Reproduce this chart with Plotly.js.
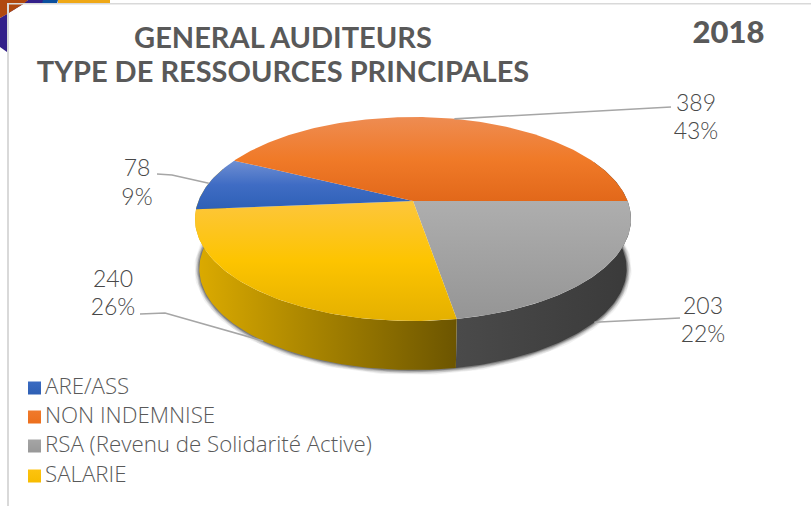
<!DOCTYPE html>
<html><head><meta charset="utf-8">
<script src="https://cdn.plot.ly/plotly-3.0.1.min.js"></script>
<style>html,body{margin:0;padding:0;background:#fff}#c{width:811px;height:506px}</style>
</head><body><div id="c"></div>
<script>
// Data
const categories = ['ARE/ASS','NON INDEMNISE','RSA (Revenu de Solidarité Active)','SALARIE'];
const values = [78, 389, 203, 240];
const titleLines = ['GENERAL AUDITEURS','TYPE DE RESSOURCES PRINCIPALES'];
const yearLabel = '2018';

// Style per category
const topStops = [
  [[0,'#6f8fd2'],[0.5,'#3f6cc4'],[1,'#2e60b6']],
  [[0,'#ee8c52'],[0.5,'#f07a28'],[1,'#e2681a']],
  [[0,'#aeaeae'],[1,'#959595']],
  [[0,'#fdc63c'],[0.5,'#fdc400'],[1,'#e4b000']]
];
const legendColors = ['#3a6bc2','#f07a2c','#a5a5a5','#fdc30f'];
const legendColorsEnd = ['#2e5fb4','#ec6f1c','#989898','#f7bc00'];

// Projection of the tilted disc
const CX = 413, CY = 201, AX = 214.6, BY = 98.8, K = -0.1765;
const DEPTH = 50, DEPTH_V = -1, BOT_SCALE = 0.98;
function topPt(deg){ const a=deg*Math.PI/180,u=Math.cos(a),v=Math.sin(a),w=1+K*v;
  return [CX+AX*u/w, CY+BY*v/w]; }
function botPt(deg){ const p=topPt(deg),v=Math.sin(deg*Math.PI/180);
  return [CX+(p[0]-CX)*BOT_SCALE, p[1]+DEPTH+DEPTH_V*v]; }
function arc(fn,a,b){ const o=[]; const n=Math.max(2,Math.ceil(Math.abs(b-a)));
  for(let i=0;i<=n;i++) o.push(fn(a+(b-a)*i/n)); return o; }

const total = values.reduce((s,v)=>s+v,0);
// RSA starts on the horizontal radius; order clockwise: RSA, SALARIE, ARE, NON
const order = [2,3,0,1];
const span = {}; let ang = 0;
order.forEach(i=>{ const d=values[i]/total*360; span[i]=[ang,ang+d]; ang+=d; });

const traces = [];
function poly(pts,grad){
  const xs=pts.map(p=>p[0]), ys=pts.map(p=>p[1]);
  traces.push({type:'scatter',mode:'lines',x:xs.concat(xs[0]),y:ys.concat(ys[0]),fill:'toself',
    line:{width:0},fillgradient:grad,hoverinfo:'skip',showlegend:false});
}
// soft shadow under the lower rim
[[10,0.06],[8,0.09],[6,0.13],[4,0.2],[2,0.3]].forEach(s=>{
  const pts=arc(botPt,-18,198);
  traces.push({type:'scatter',mode:'lines',x:pts.map(p=>p[0]),y:pts.map(p=>p[1]),
    line:{color:'rgba(30,30,30,'+s[1]+')',width:s[0]},hoverinfo:'skip',showlegend:false});
});
// side walls
const wallGray = arc(topPt,span[2][0]-25,span[2][1]).concat(arc(botPt,span[2][1],span[2][0]-25));
poly(wallGray,{type:'horizontal',start:457,stop:630,colorscale:[[0,'#4a4a4a'],[1,'#3a3a3a']]});
const wallYel = arc(topPt,span[3][0],span[3][1]+25).concat(arc(botPt,span[3][1]+25,span[3][0]));
poly(wallYel,{type:'horizontal',start:196,stop:457,colorscale:[[0,'#dcab00'],[0.45,'#a88400'],[1,'#6c5500']]});
// top faces
[2,3,0,1].forEach(i=>{
  const pts=[[CX,CY]].concat(arc(topPt,span[i][0],span[i][1]));
  const ys=pts.map(p=>p[1]);
  poly(pts,{type:'vertical',start:Math.min(...ys),stop:Math.max(...ys),colorscale:topStops[i]});
});
// leader lines, anchored at each slice's mid angle
const mid = i => (span[i][0]+span[i][1])/2;
const anchors = [topPt(mid(0)),topPt(mid(1)),botPt(mid(2)),botPt(mid(3))];
const knees = [[[157,174],[172,175]],[[671,107]],[[680,318]],[[140,314],[165,313]]];
anchors.forEach((a,i)=>{
  const pts=knees[i].concat([a]);
  traces.push({type:'scatter',mode:'lines',x:pts.map(p=>p[0]),y:pts.map(p=>p[1]),
    line:{color:'#a6a6a6',width:1.6},hoverinfo:'skip',showlegend:false});
});
// data labels
const labelX=[137,696,703,113], valY=[170,105,308,281], pctY=[199,133,336,309];
const labelFont={family:'Lato',size:23,color:'#484848',weight:300};
traces.push({type:'scatter',mode:'text',x:labelX,y:valY,text:values.map(String),textfont:labelFont,
  textposition:'middle center',hoverinfo:'skip',showlegend:false});
traces.push({type:'scatter',mode:'text',x:labelX,y:pctY,text:values.map(v=>Math.round(v/total*100)+'%'),textfont:labelFont,
  textposition:'middle center',hoverinfo:'skip',showlegend:false});
// legend
const legY=[388,417,446,476];
traces.push({type:'scatter',mode:'markers',x:categories.map(()=>34.5),y:legY,
  marker:{symbol:'square',size:13,color:legendColors,gradient:{type:'vertical',color:legendColorsEnd},line:{width:0}},
  hoverinfo:'skip',showlegend:false});
traces.push({type:'scatter',mode:'text',x:categories.map(()=>45),y:legY.map(y=>y+0.5),text:categories,
  textposition:'middle right',textfont:{family:'Open Sans',size:22.3,color:'#595959',weight:300},
  hoverinfo:'skip',showlegend:false});
// titles
traces.push({type:'scatter',mode:'text',x:[283,283],y:[40.5,74.5],text:titleLines,
  textfont:{family:'Lato',size:29,color:'#595959',weight:700},textposition:'middle center',hoverinfo:'skip',showlegend:false});
traces.push({type:'scatter',mode:'text',x:[728.5],y:[35],text:[yearLabel],
  textfont:{family:'Lato',size:31,color:'#595959',weight:900},textposition:'middle center',hoverinfo:'skip',showlegend:false});

const rect=(x0,y0,x1,y1,c)=>({type:'rect',xref:'x',yref:'y',x0,y0,x1,y1,fillcolor:c,line:{width:0},layer:'below'});
const path=(d,c)=>({type:'path',xref:'x',yref:'y',path:d,fillcolor:c,line:{width:0},layer:'below'});
const layout={
  width:811,height:506,margin:{l:0,r:0,t:0,b:0},paper_bgcolor:'#fff',plot_bgcolor:'#fff',showlegend:false,
  xaxis:{range:[0,811],visible:false,fixedrange:true},
  yaxis:{range:[506,0],visible:false,fixedrange:true},
  shapes:[
    rect(58,0,110,3.5,'#efa817'),
    path('M 42 0 L 58 0 L 57 3.5 L 42 3.5 Z','#0b4f9e'),
    path('M 28 0 L 43 0 L 42 3.5 L 24 3.5 L 7 14 L 0 18 Z','#33208a'),
    path('M 0 18 L 7 14 L 7 52 L 0 47 Z','#33208a'),
    path('M 0 0 L 28 0 L 24 3.5 L 7 14 L 0 18 Z','#b0480f'),
    rect(7,3,811,4.5,'#d9d9d9'),rect(7,3,9,506,'#d9d9d9')
  ]
};
Plotly.newPlot('c',traces,layout,{displayModeBar:false,staticPlot:true});
</script></body></html>
